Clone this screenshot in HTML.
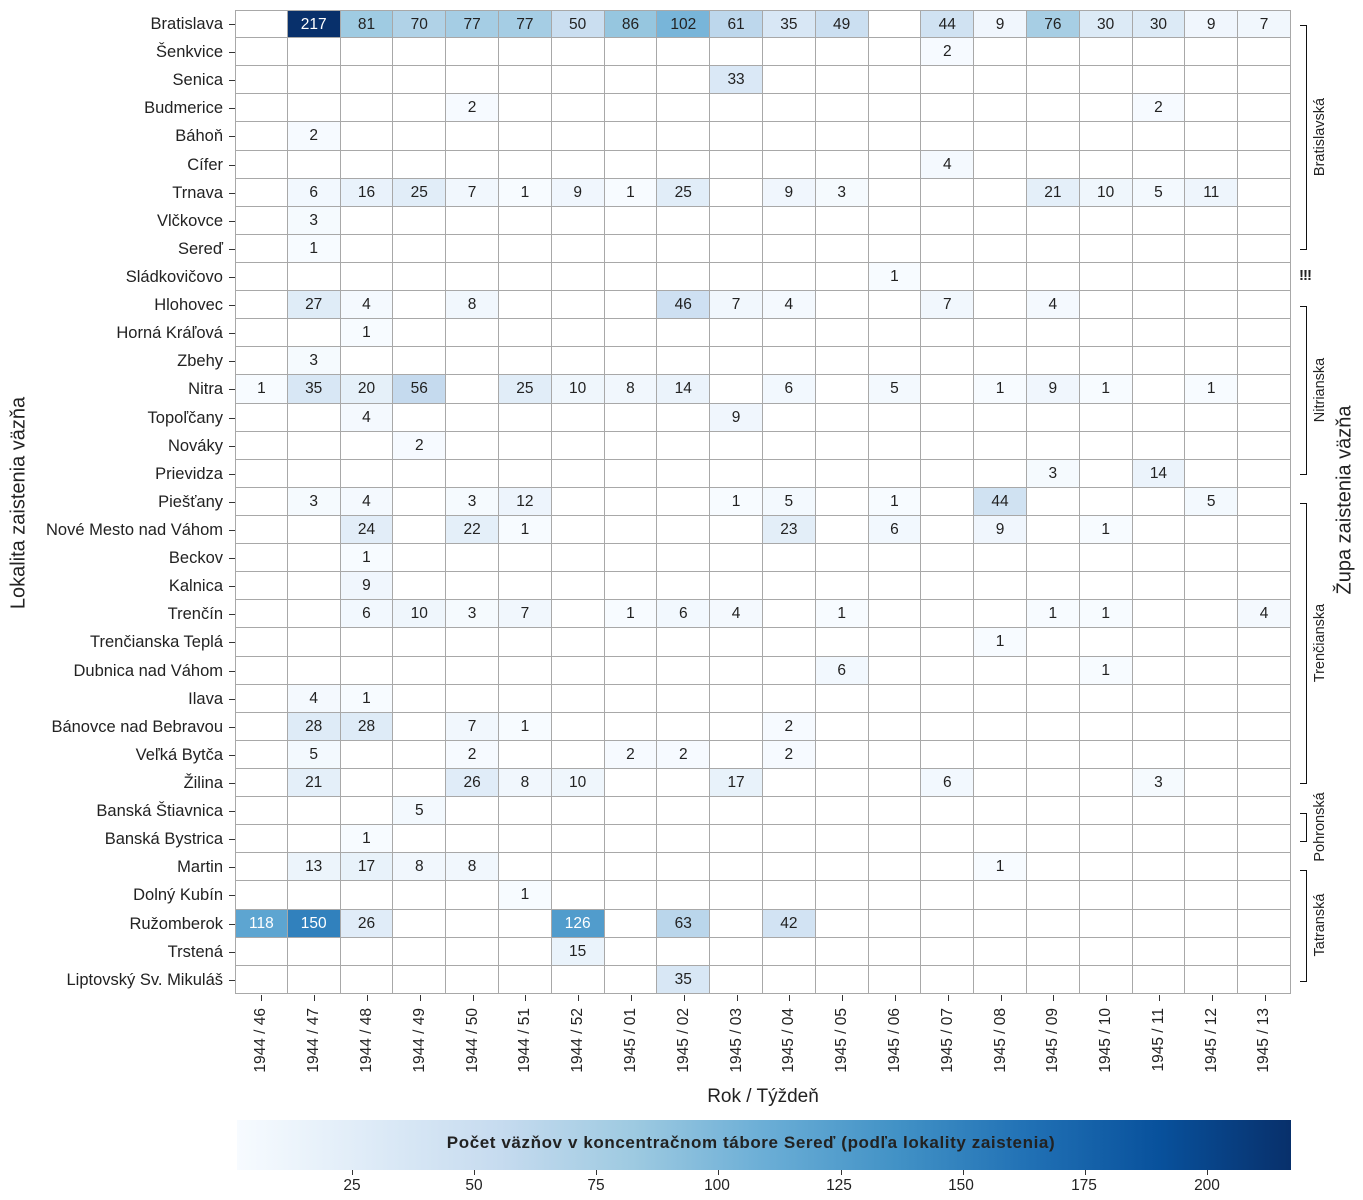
<!DOCTYPE html>
<html><head><meta charset="utf-8">
<style>
body{margin:0;width:1363px;height:1200px;background:#fff;font-family:"Liberation Sans",sans-serif;color:#222;position:relative;overflow:hidden}
#g{position:absolute;left:0;top:10px}
.r{display:flex;height:28.12px}
.r span{width:223px;padding-right:12px;text-align:right;font-size:16.5px;line-height:28px;position:relative;box-sizing:content-box;white-space:nowrap}
.r span:after{content:"";position:absolute;right:0;top:14px;width:6px;border-top:1px solid #333}
.r i{font-style:normal;width:52.8px;box-sizing:border-box;border-right:1px solid #a8a8a8;border-bottom:1px solid #a8a8a8;text-align:center;font-size:15.5px;line-height:28px}
.r:first-child i{border-top:1px solid #a8a8a8}
.r i:nth-child(2){border-left:1px solid #a8a8a8}
.xt{position:absolute;top:1000px;width:1px;height:6px;background:#333}
.xl{position:absolute;top:1008px;font-size:15.5px;writing-mode:vertical-rl;transform:rotate(180deg);white-space:nowrap}
.rot{position:absolute;transform:translate(-50%,-50%) rotate(-90deg);white-space:nowrap}
.br{position:absolute;left:1300px;width:6px;border:1.5px solid #111;border-left:none}
</style></head><body>
<div id="g">
<div class="r"><span>Bratislava</span><i></i><i>217</i><i>81</i><i>70</i><i>77</i><i>77</i><i>50</i><i>86</i><i>102</i><i>61</i><i>35</i><i>49</i><i></i><i>44</i><i>9</i><i>76</i><i>30</i><i>30</i><i>9</i><i>7</i></div>
<div class="r"><span>Šenkvice</span><i></i><i></i><i></i><i></i><i></i><i></i><i></i><i></i><i></i><i></i><i></i><i></i><i></i><i>2</i><i></i><i></i><i></i><i></i><i></i><i></i></div>
<div class="r"><span>Senica</span><i></i><i></i><i></i><i></i><i></i><i></i><i></i><i></i><i></i><i>33</i><i></i><i></i><i></i><i></i><i></i><i></i><i></i><i></i><i></i><i></i></div>
<div class="r"><span>Budmerice</span><i></i><i></i><i></i><i></i><i>2</i><i></i><i></i><i></i><i></i><i></i><i></i><i></i><i></i><i></i><i></i><i></i><i></i><i>2</i><i></i><i></i></div>
<div class="r"><span>Báhoň</span><i></i><i>2</i><i></i><i></i><i></i><i></i><i></i><i></i><i></i><i></i><i></i><i></i><i></i><i></i><i></i><i></i><i></i><i></i><i></i><i></i></div>
<div class="r"><span>Cífer</span><i></i><i></i><i></i><i></i><i></i><i></i><i></i><i></i><i></i><i></i><i></i><i></i><i></i><i>4</i><i></i><i></i><i></i><i></i><i></i><i></i></div>
<div class="r"><span>Trnava</span><i></i><i>6</i><i>16</i><i>25</i><i>7</i><i>1</i><i>9</i><i>1</i><i>25</i><i></i><i>9</i><i>3</i><i></i><i></i><i></i><i>21</i><i>10</i><i>5</i><i>11</i><i></i></div>
<div class="r"><span>Vlčkovce</span><i></i><i>3</i><i></i><i></i><i></i><i></i><i></i><i></i><i></i><i></i><i></i><i></i><i></i><i></i><i></i><i></i><i></i><i></i><i></i><i></i></div>
<div class="r"><span>Sereď</span><i></i><i>1</i><i></i><i></i><i></i><i></i><i></i><i></i><i></i><i></i><i></i><i></i><i></i><i></i><i></i><i></i><i></i><i></i><i></i><i></i></div>
<div class="r"><span>Sládkovičovo</span><i></i><i></i><i></i><i></i><i></i><i></i><i></i><i></i><i></i><i></i><i></i><i></i><i>1</i><i></i><i></i><i></i><i></i><i></i><i></i><i></i></div>
<div class="r"><span>Hlohovec</span><i></i><i>27</i><i>4</i><i></i><i>8</i><i></i><i></i><i></i><i>46</i><i>7</i><i>4</i><i></i><i></i><i>7</i><i></i><i>4</i><i></i><i></i><i></i><i></i></div>
<div class="r"><span>Horná Kráľová</span><i></i><i></i><i>1</i><i></i><i></i><i></i><i></i><i></i><i></i><i></i><i></i><i></i><i></i><i></i><i></i><i></i><i></i><i></i><i></i><i></i></div>
<div class="r"><span>Zbehy</span><i></i><i>3</i><i></i><i></i><i></i><i></i><i></i><i></i><i></i><i></i><i></i><i></i><i></i><i></i><i></i><i></i><i></i><i></i><i></i><i></i></div>
<div class="r"><span>Nitra</span><i>1</i><i>35</i><i>20</i><i>56</i><i></i><i>25</i><i>10</i><i>8</i><i>14</i><i></i><i>6</i><i></i><i>5</i><i></i><i>1</i><i>9</i><i>1</i><i></i><i>1</i><i></i></div>
<div class="r"><span>Topoľčany</span><i></i><i></i><i>4</i><i></i><i></i><i></i><i></i><i></i><i></i><i>9</i><i></i><i></i><i></i><i></i><i></i><i></i><i></i><i></i><i></i><i></i></div>
<div class="r"><span>Nováky</span><i></i><i></i><i></i><i>2</i><i></i><i></i><i></i><i></i><i></i><i></i><i></i><i></i><i></i><i></i><i></i><i></i><i></i><i></i><i></i><i></i></div>
<div class="r"><span>Prievidza</span><i></i><i></i><i></i><i></i><i></i><i></i><i></i><i></i><i></i><i></i><i></i><i></i><i></i><i></i><i></i><i>3</i><i></i><i>14</i><i></i><i></i></div>
<div class="r"><span>Piešťany</span><i></i><i>3</i><i>4</i><i></i><i>3</i><i>12</i><i></i><i></i><i></i><i>1</i><i>5</i><i></i><i>1</i><i></i><i>44</i><i></i><i></i><i></i><i>5</i><i></i></div>
<div class="r"><span>Nové Mesto nad Váhom</span><i></i><i></i><i>24</i><i></i><i>22</i><i>1</i><i></i><i></i><i></i><i></i><i>23</i><i></i><i>6</i><i></i><i>9</i><i></i><i>1</i><i></i><i></i><i></i></div>
<div class="r"><span>Beckov</span><i></i><i></i><i>1</i><i></i><i></i><i></i><i></i><i></i><i></i><i></i><i></i><i></i><i></i><i></i><i></i><i></i><i></i><i></i><i></i><i></i></div>
<div class="r"><span>Kalnica</span><i></i><i></i><i>9</i><i></i><i></i><i></i><i></i><i></i><i></i><i></i><i></i><i></i><i></i><i></i><i></i><i></i><i></i><i></i><i></i><i></i></div>
<div class="r"><span>Trenčín</span><i></i><i></i><i>6</i><i>10</i><i>3</i><i>7</i><i></i><i>1</i><i>6</i><i>4</i><i></i><i>1</i><i></i><i></i><i></i><i>1</i><i>1</i><i></i><i></i><i>4</i></div>
<div class="r"><span>Trenčianska Teplá</span><i></i><i></i><i></i><i></i><i></i><i></i><i></i><i></i><i></i><i></i><i></i><i></i><i></i><i></i><i>1</i><i></i><i></i><i></i><i></i><i></i></div>
<div class="r"><span>Dubnica nad Váhom</span><i></i><i></i><i></i><i></i><i></i><i></i><i></i><i></i><i></i><i></i><i></i><i>6</i><i></i><i></i><i></i><i></i><i>1</i><i></i><i></i><i></i></div>
<div class="r"><span>Ilava</span><i></i><i>4</i><i>1</i><i></i><i></i><i></i><i></i><i></i><i></i><i></i><i></i><i></i><i></i><i></i><i></i><i></i><i></i><i></i><i></i><i></i></div>
<div class="r"><span>Bánovce nad Bebravou</span><i></i><i>28</i><i>28</i><i></i><i>7</i><i>1</i><i></i><i></i><i></i><i></i><i>2</i><i></i><i></i><i></i><i></i><i></i><i></i><i></i><i></i><i></i></div>
<div class="r"><span>Veľká Bytča</span><i></i><i>5</i><i></i><i></i><i>2</i><i></i><i></i><i>2</i><i>2</i><i></i><i>2</i><i></i><i></i><i></i><i></i><i></i><i></i><i></i><i></i><i></i></div>
<div class="r"><span>Žilina</span><i></i><i>21</i><i></i><i></i><i>26</i><i>8</i><i>10</i><i></i><i></i><i>17</i><i></i><i></i><i></i><i>6</i><i></i><i></i><i></i><i>3</i><i></i><i></i></div>
<div class="r"><span>Banská Štiavnica</span><i></i><i></i><i></i><i>5</i><i></i><i></i><i></i><i></i><i></i><i></i><i></i><i></i><i></i><i></i><i></i><i></i><i></i><i></i><i></i><i></i></div>
<div class="r"><span>Banská Bystrica</span><i></i><i></i><i>1</i><i></i><i></i><i></i><i></i><i></i><i></i><i></i><i></i><i></i><i></i><i></i><i></i><i></i><i></i><i></i><i></i><i></i></div>
<div class="r"><span>Martin</span><i></i><i>13</i><i>17</i><i>8</i><i>8</i><i></i><i></i><i></i><i></i><i></i><i></i><i></i><i></i><i></i><i>1</i><i></i><i></i><i></i><i></i><i></i></div>
<div class="r"><span>Dolný Kubín</span><i></i><i></i><i></i><i></i><i></i><i>1</i><i></i><i></i><i></i><i></i><i></i><i></i><i></i><i></i><i></i><i></i><i></i><i></i><i></i><i></i></div>
<div class="r"><span>Ružomberok</span><i>118</i><i>150</i><i>26</i><i></i><i></i><i></i><i>126</i><i></i><i>63</i><i></i><i>42</i><i></i><i></i><i></i><i></i><i></i><i></i><i></i><i></i><i></i></div>
<div class="r"><span>Trstená</span><i></i><i></i><i></i><i></i><i></i><i></i><i>15</i><i></i><i></i><i></i><i></i><i></i><i></i><i></i><i></i><i></i><i></i><i></i><i></i><i></i></div>
<div class="r"><span>Liptovský Sv. Mikuláš</span><i></i><i></i><i></i><i></i><i></i><i></i><i></i><i></i><i>35</i><i></i><i></i><i></i><i></i><i></i><i></i><i></i><i></i><i></i><i></i><i></i></div>
</div>

<div class="xl" style="left:252px">1944 / 46</div><div class="xl" style="left:305px">1944 / 47</div><div class="xl" style="left:358px">1944 / 48</div><div class="xl" style="left:411px">1944 / 49</div><div class="xl" style="left:464px">1944 / 50</div><div class="xl" style="left:516px">1944 / 51</div><div class="xl" style="left:569px">1944 / 52</div><div class="xl" style="left:622px">1945 / 01</div><div class="xl" style="left:675px">1945 / 02</div><div class="xl" style="left:728px">1945 / 03</div><div class="xl" style="left:780px">1945 / 04</div><div class="xl" style="left:833px">1945 / 05</div><div class="xl" style="left:886px">1945 / 06</div><div class="xl" style="left:939px">1945 / 07</div><div class="xl" style="left:992px">1945 / 08</div><div class="xl" style="left:1044px">1945 / 09</div><div class="xl" style="left:1097px">1945 / 10</div><div class="xl" style="left:1150px">1945 / 11</div><div class="xl" style="left:1203px">1945 / 12</div><div class="xl" style="left:1255px">1945 / 13</div>
<div id="xt"></div>

<div style="position:absolute;left:663px;top:1086px;width:200px;text-align:center;font-size:19px">Rok / Týždeň</div>
<div class="rot" style="left:19px;top:503px;font-size:20px">Lokalita zaistenia väzňa</div>
<div class="rot" style="left:1345px;top:500px;font-size:20px">Župa zaistenia väzňa</div>

<div class="br" style="top:25px;height:223px"></div><div class="rot" style="left:1320px;top:137px;font-size:14.5px">Bratislavská</div>
<div style="position:absolute;left:1299px;top:267px;font-size:15px;font-weight:bold;letter-spacing:-1px">!!!</div>
<div class="br" style="top:306px;height:167px"></div><div class="rot" style="left:1320px;top:390px;font-size:14.5px">Nitrianska</div>
<div class="br" style="top:503px;height:279px"></div><div class="rot" style="left:1320px;top:643px;font-size:14.5px">Trenčianska</div>
<div class="br" style="top:813px;height:27px"></div><div class="rot" style="left:1320px;top:827px;font-size:14.5px">Pohronská</div>
<div class="br" style="top:870px;height:110px"></div><div class="rot" style="left:1320px;top:925px;font-size:14.5px">Tatranská</div>

<div style="position:absolute;left:237px;top:1120px;width:1054px;height:50px;background:linear-gradient(to right,#f7fbff 0%,#deebf7 12.5%,#c6dbef 25%,#9ecae1 37.5%,#6baed6 50%,#4292c6 62.5%,#2171b5 75%,#08519c 87.5%,#08306b 100%)"></div>
<div style="position:absolute;left:237px;top:1133px;width:1028px;text-align:center;font-size:17px;letter-spacing:0.6px;font-weight:bold;color:#222">Počet väzňov v koncentračnom tábore Sereď (podľa lokality zaistenia)</div>
<div id="cb"></div>
<div style="position:absolute;top:1177px;left:332px;width:40px;text-align:center;font-size:15.5px">25</div>
<div style="position:absolute;top:1177px;left:454px;width:40px;text-align:center;font-size:15.5px">50</div>
<div style="position:absolute;top:1177px;left:576px;width:40px;text-align:center;font-size:15.5px">75</div>
<div style="position:absolute;top:1177px;left:697px;width:40px;text-align:center;font-size:15.5px">100</div>
<div style="position:absolute;top:1177px;left:819px;width:40px;text-align:center;font-size:15.5px">125</div>
<div style="position:absolute;top:1177px;left:941px;width:40px;text-align:center;font-size:15.5px">150</div>
<div style="position:absolute;top:1177px;left:1064px;width:40px;text-align:center;font-size:15.5px">175</div>
<div style="position:absolute;top:1177px;left:1187px;width:40px;text-align:center;font-size:15.5px">200</div>

<script>
var S=[[247,251,255],[222,235,247],[198,219,239],[158,202,225],[107,174,214],[66,146,198],[33,113,181],[8,81,156],[8,48,107]];
function col(t){t=Math.max(0,Math.min(1,t))*8;var i=Math.min(7,Math.floor(t)),f=t-i,a=S[i],b=S[i+1];
return 'rgb('+[0,1,2].map(function(k){return Math.round(a[k]+(b[k]-a[k])*f)}).join(',')+')';}
document.querySelectorAll('.r i').forEach(function(e){var v=parseFloat(e.textContent);if(!isNaN(v)){var t=(v-1)/216;e.style.background=col(t);if(t>0.5)e.style.color='#fff';}});
var h='';for(var c=0;c<20;c++){h+='<div class="xt" style="left:'+(235+52.8*(c+0.5))+'px;top:995px"></div>';}
document.getElementById('xt').innerHTML=h;
h='';[25,50,75,100,125,150,175,200].forEach(function(v){h+='<div style="position:absolute;top:1170px;width:1px;height:5px;background:#333;left:'+(352+(v-25)*4.886)+'px"></div>'});
document.getElementById('cb').innerHTML=h;
</script>
</body></html>
